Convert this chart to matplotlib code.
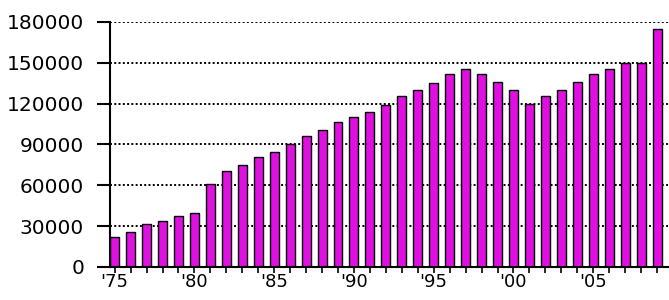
import matplotlib.pyplot as plt
import numpy as np

years = np.arange(1975, 2010)
values = [21700, 25800, 31500, 33700, 37400, 39400, 61000, 70800,
          75000, 80700, 84600, 90300, 96400, 100300, 106200, 110200,
          113900, 119300, 125400, 129800, 135300, 141400, 145100, 141400,
          135700, 129800, 119800, 125400, 129800, 135700, 141400, 145100,
          150000, 150000, 174600]
label_years = [1975, 1980, 1985, 1990, 1995, 2000, 2005]
label_text = ["'75", "'80", "'85", "'90", "'95", "'00", "'05"]
y_ticks = [0, 30000, 60000, 90000, 120000, 150000, 180000]

fig = plt.figure(figsize=(6.69, 3.0), dpi=100)
ax = fig.add_axes([0.164, 0.11, 0.836, 0.817])

ax.bar(years, values, width=0.56, color='#E010E0', edgecolor='black',
       linewidth=1.0, zorder=2)

ax.set_xlim(1974.69, 2009.75)
ax.set_ylim(0, 180000)

ax.set_yticks(y_ticks)
ax.set_yticklabels([str(v) for v in y_ticks], fontsize=14.5)
ax.yaxis.grid(True, linestyle=(0, (1, 1.2)), color='black', linewidth=1.4, zorder=0)
ax.set_axisbelow(True)

ax.set_xticks(years)
ax.set_xticklabels([label_text[label_years.index(y)] if y in label_years else ''
                    for y in years], fontsize=13)
ax.tick_params(axis='x', direction='out', length=4, width=1.2, pad=0)
ax.tick_params(axis='y', direction='out', length=9.5, width=1.5, pad=9)

for s in ['top', 'right']:
    ax.spines[s].set_visible(False)
ax.spines['left'].set_linewidth(1.5)
ax.spines['bottom'].set_linewidth(1.5)

plt.savefig('out.png', dpi=100)
